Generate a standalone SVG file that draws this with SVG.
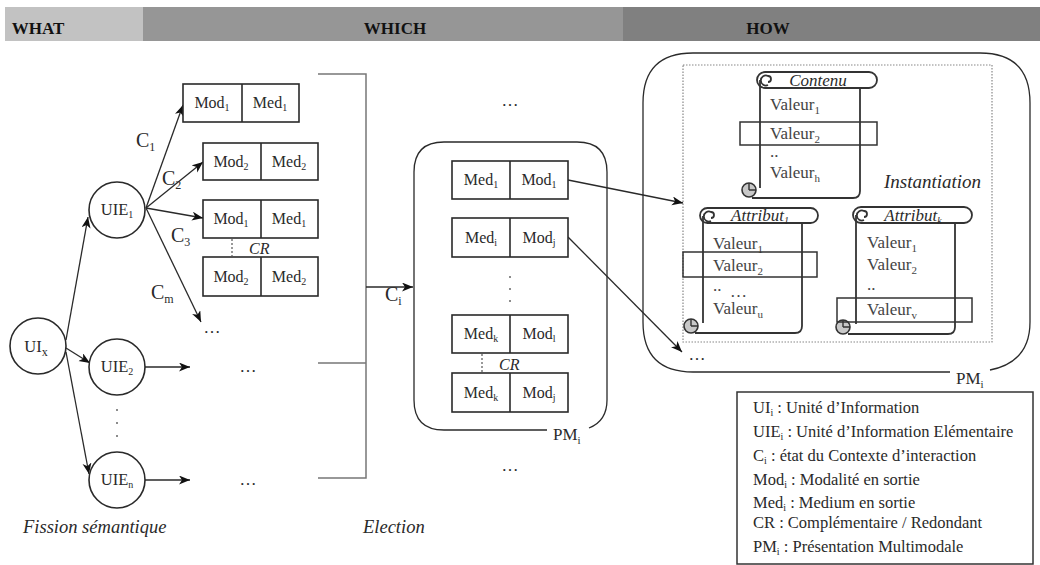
<svg xmlns="http://www.w3.org/2000/svg" width="1040" height="565" viewBox="0 0 1040 565" font-family="'Liberation Serif', 'DejaVu Serif', serif">
<style>
text{font-family:'Liberation Serif','DejaVu Serif','Times New Roman',serif;fill:#2a2a2a}
.hdr{font-size:17px;font-weight:bold;text-anchor:middle;fill:#111}
.box{fill:#fff;stroke:#2a2a2a;stroke-width:1.6}
.cell{font-size:16px;text-anchor:middle}
.circ{fill:#fff;stroke:#2a2a2a;stroke-width:1.6}
.node{font-size:16.5px;text-anchor:middle}
.lbl{font-size:20px}
.it{font-style:italic}
.conn{fill:none;stroke:#2a2a2a;stroke-width:1.3}
.gray{fill:none;stroke:#777;stroke-width:1.5}
.cr{stroke:#999;stroke-width:2;stroke-dasharray:2 2}
.dots{font-size:17px;text-anchor:middle}
.scroll{fill:none;stroke:#333;stroke-width:1.8}
.val{font-size:17px;fill:#444}
.leg{font-size:16.5px}
.dot{fill:#666}
</style>
<defs>
<marker id="arr" markerUnits="userSpaceOnUse" markerWidth="12" markerHeight="10" refX="11" refY="4.5" orient="auto">
<path d="M0,0 L11,4.5 L0,9 L3,4.5 Z" fill="#111"/>
</marker>
</defs>

<g id="header">
<rect x="5" y="7" width="138" height="34" fill="#c2c2c2"/>
<rect x="143" y="7" width="480" height="34" fill="#969696"/>
<rect x="623" y="7" width="417" height="34" fill="#808080"/>
<text class="hdr" x="38" y="34">WHAT</text>
<text class="hdr" x="395" y="34">WHICH</text>
<text class="hdr" x="768" y="34">HOW</text>
</g>

<g id="connectors">
<line class="conn" x1="66" y1="340" x2="88" y2="217" marker-end="url(#arr)"/>
<line class="conn" x1="66" y1="348" x2="90" y2="363" marker-end="url(#arr)"/>
<line class="conn" x1="66" y1="352" x2="89" y2="474" marker-end="url(#arr)"/>
<line class="conn" x1="146" y1="208" x2="183" y2="105" marker-end="url(#arr)"/>
<line class="conn" x1="146" y1="208" x2="203" y2="162" marker-end="url(#arr)"/>
<line class="conn" x1="146" y1="208" x2="203" y2="218" marker-end="url(#arr)"/>
<line class="conn" x1="146" y1="208" x2="201" y2="322" marker-end="url(#arr)"/>
<line class="conn" x1="145" y1="367" x2="190" y2="367" marker-end="url(#arr)"/>
<line class="conn" x1="145" y1="480" x2="190" y2="480" marker-end="url(#arr)"/>
<path class="gray" d="M318 74 H366 V478 H318 M318 363 H366"/>
<line class="conn" x1="366" y1="287" x2="413" y2="287" marker-end="url(#arr)"/>
<line class="conn" x1="568" y1="180" x2="683" y2="203" marker-end="url(#arr)"/>
<line class="conn" x1="568" y1="237" x2="682" y2="352" marker-end="url(#arr)"/>
</g>

<g id="labels">
<text class="lbl" x="136" y="147">C<tspan dy="4" font-size="12">1</tspan></text>
<text class="lbl" x="162" y="185">C<tspan dy="4" font-size="12">2</tspan></text>
<text class="lbl" x="171" y="242">C<tspan dy="4" font-size="12">3</tspan></text>
<text class="lbl" x="151" y="299">C<tspan dy="4" font-size="12">m</tspan></text>
<text class="lbl" x="385" y="301">C<tspan dy="4" font-size="12">i</tspan></text>
<text class="dots" x="212" y="333">…</text>
<text class="dots" x="248" y="372">…</text>
<text class="dots" x="248" y="485">…</text>
<text class="dots" x="510" y="106">…</text>
<text class="dots" x="510" y="471">…</text>
<text class="dots" x="697" y="360">…</text>
<circle class="dot" cx="117" cy="410" r="1"/>
<circle class="dot" cx="117" cy="423" r="1"/>
<circle class="dot" cx="117" cy="436" r="1"/>
<text class="it" x="23" y="533" font-size="18.5">Fission sémantique</text>
<text class="it" x="363" y="533" font-size="18.5">Election</text>
</g>

<g id="UIx">
<circle class="circ" cx="38" cy="346" r="28"/>
<text class="node" x="36" y="352" font-size="20">UI<tspan dy="4" font-size="12">x</tspan></text>
</g>
<g id="UIE1">
<circle class="circ" cx="117" cy="210" r="28"/>
<text class="node" x="117" y="215">UIE<tspan dy="3" font-size="10">1</tspan></text>
</g>
<g id="UIE2">
<circle class="circ" cx="117" cy="367" r="28"/>
<text class="node" x="117" y="372">UIE<tspan dy="3" font-size="10">2</tspan></text>
</g>
<g id="UIEn">
<circle class="circ" cx="117" cy="480" r="28"/>
<text class="node" x="117" y="485">UIE<tspan dy="3" font-size="10">n</tspan></text>
</g>

<g id="box1">
<rect class="box" x="183" y="84" width="116" height="38"/>
<line class="box" x1="242" y1="84" x2="242" y2="122"/>
<text class="cell" x="212" y="108">Mod<tspan dy="3" font-size="10">1</tspan></text>
<text class="cell" x="270" y="108">Med<tspan dy="3" font-size="10">1</tspan></text>
</g>
<g id="box2">
<rect class="box" x="203" y="143" width="115" height="37"/>
<line class="box" x1="261" y1="143" x2="261" y2="180"/>
<text class="cell" x="231" y="167">Mod<tspan dy="3" font-size="10">2</tspan></text>
<text class="cell" x="289" y="167">Med<tspan dy="3" font-size="10">2</tspan></text>
</g>
<g id="box3">
<rect class="box" x="203" y="200" width="115" height="38"/>
<line class="box" x1="261" y1="200" x2="261" y2="238"/>
<text class="cell" x="231" y="224">Mod<tspan dy="3" font-size="10">1</tspan></text>
<text class="cell" x="289" y="224">Med<tspan dy="3" font-size="10">1</tspan></text>
</g>
<g id="box4">
<rect class="box" x="203" y="257" width="115" height="39"/>
<line class="box" x1="261" y1="257" x2="261" y2="296"/>
<text class="cell" x="231" y="282">Mod<tspan dy="3" font-size="10">2</tspan></text>
<text class="cell" x="289" y="282">Med<tspan dy="3" font-size="10">2</tspan></text>
</g>
<g id="cr1">
<line class="cr" x1="232" y1="239" x2="232" y2="256"/>
<text class="it" x="249" y="254" font-size="16">CR</text>
</g>

<g id="PM-election">
<path class="conn" stroke-width="1.8" d="M547 430 H444 Q414 430 414 400 V172 Q414 142 444 142 H577 Q607 142 607 172 V400 Q607 421 589 428"/>
<text x="553" y="440" font-size="17">PM<tspan dy="4" font-size="11">i</tspan></text>
</g>
<g id="pbox1">
<rect class="box" x="452" y="161" width="116" height="38"/>
<line class="box" x1="510" y1="161" x2="510" y2="199"/>
<text class="cell" x="481" y="185">Med<tspan dy="3" font-size="10">1</tspan></text>
<text class="cell" x="539" y="185">Mod<tspan dy="3" font-size="10">1</tspan></text>
</g>
<g id="pbox2">
<rect class="box" x="452" y="218" width="116" height="39"/>
<line class="box" x1="510" y1="218" x2="510" y2="257"/>
<text class="cell" x="481" y="243">Med<tspan dy="3" font-size="10">i</tspan></text>
<text class="cell" x="539" y="243">Mod<tspan dy="3" font-size="10">j</tspan></text>
</g>
<circle class="dot" cx="510" cy="277" r="1"/>
<circle class="dot" cx="510" cy="289" r="1"/>
<circle class="dot" cx="510" cy="301" r="1"/>
<g id="pbox3">
<rect class="box" x="452" y="315" width="116" height="38"/>
<line class="box" x1="510" y1="315" x2="510" y2="353"/>
<text class="cell" x="481" y="339">Med<tspan dy="3" font-size="10">k</tspan></text>
<text class="cell" x="539" y="339">Mod<tspan dy="3" font-size="10">l</tspan></text>
</g>
<g id="pbox4">
<rect class="box" x="452" y="373" width="116" height="39"/>
<line class="box" x1="510" y1="373" x2="510" y2="412"/>
<text class="cell" x="481" y="398">Med<tspan dy="3" font-size="10">k</tspan></text>
<text class="cell" x="539" y="398">Mod<tspan dy="3" font-size="10">j</tspan></text>
</g>
<g id="cr2">
<line class="cr" x1="482" y1="354" x2="482" y2="372"/>
<text class="it" x="499" y="370" font-size="16">CR</text>
</g>

<g id="PM-how">
<path class="conn" stroke-width="1.8" d="M950 372 H693 Q643 372 643 322 V103 Q643 53 693 53 H980 Q1030 53 1030 103 V322 Q1030 362 990 370"/>
<text x="956" y="384" font-size="17">PM<tspan dy="4" font-size="11">i</tspan></text>
<rect x="683" y="65" width="309" height="277" fill="none" stroke="#888" stroke-width="1.2" stroke-dasharray="1.5 1.5"/>
<text class="it" x="884" y="188" font-size="19">Instantiation</text>
</g>

<g id="contenu">
<rect class="scroll" x="757" y="72" width="120" height="16" rx="8"/>
<path class="scroll" d="M760 80 V188 M860 88 V191 Q860 198 853 198 H752"/>
<path class="scroll" d="M768 85 A5 5 0 1 1 768 76 A3 3 0 0 1 768 82"/>
<circle cx="749" cy="190" r="7" fill="#c8c8c8" stroke="#333" stroke-width="1.6"/>
<path d="M749 190 H756 M749 190 V183" stroke="#333" stroke-width="1.4" fill="none"/>
<text class="it" x="818" y="86" font-size="17" text-anchor="middle">Contenu</text>
<text class="val" x="770" y="110">Valeur<tspan dy="4" font-size="11">1</tspan></text>
<rect x="740" y="122" width="137" height="23" fill="none" stroke="#333" stroke-width="1.5"/>
<text class="val" x="770" y="139">Valeur<tspan dy="4" font-size="11">2</tspan></text>
<text class="val" x="770" y="157" font-size="11">..</text>
<text class="val" x="770" y="178">Valeur<tspan dy="4" font-size="11">h</tspan></text>
</g>

<g id="attribut1">
<rect class="scroll" x="700" y="208" width="118" height="15" rx="7.5"/>
<path class="scroll" d="M703 216 V323 M802 223 V326 Q802 333 795 333 H695"/>
<path class="scroll" d="M711 221 A5 5 0 1 1 711 212 A3 3 0 0 1 711 218"/>
<circle cx="691" cy="326" r="7" fill="#c8c8c8" stroke="#333" stroke-width="1.6"/>
<path d="M691 326 H698 M691 326 V319" stroke="#333" stroke-width="1.4" fill="none"/>
<text class="it" x="760" y="221" font-size="17" text-anchor="middle">Attribut<tspan dy="3" font-size="10">1</tspan></text>
<text class="val" x="713" y="249">Valeur<tspan dy="4" font-size="11">1</tspan></text>
<rect x="683" y="252" width="134" height="25" fill="none" stroke="#333" stroke-width="1.5"/>
<text class="val" x="713" y="271">Valeur<tspan dy="4" font-size="11">2</tspan></text>
<text class="val" x="713" y="291" font-size="11">..</text>
<text class="val" x="730" y="297" font-size="13">…</text>
<text class="val" x="713" y="314">Valeur<tspan dy="4" font-size="11">u</tspan></text>
</g>

<g id="attributk">
<rect class="scroll" x="853" y="207" width="119" height="16" rx="8"/>
<path class="scroll" d="M856 215 V324 M955 223 V327 Q955 334 948 334 H848"/>
<path class="scroll" d="M864 220 A5 5 0 1 1 864 211 A3 3 0 0 1 864 217"/>
<circle cx="843" cy="327" r="7" fill="#c8c8c8" stroke="#333" stroke-width="1.6"/>
<path d="M843 327 H850 M843 327 V320" stroke="#333" stroke-width="1.4" fill="none"/>
<text class="it" x="913" y="221" font-size="17" text-anchor="middle">Attribut<tspan dy="3" font-size="10">k</tspan></text>
<text class="val" x="867" y="248">Valeur<tspan dy="4" font-size="11">1</tspan></text>
<text class="val" x="867" y="270">Valeur<tspan dy="4" font-size="11">2</tspan></text>
<text class="val" x="867" y="290" font-size="11">..</text>
<rect x="837" y="298" width="135" height="24" fill="none" stroke="#333" stroke-width="1.5"/>
<text class="val" x="867" y="315">Valeur<tspan dy="4" font-size="11">v</tspan></text>
</g>

<g id="legend">
<rect x="737" y="392" width="296" height="172" fill="#fff" stroke="#333" stroke-width="1.5"/>
<text class="leg" x="753" y="413">UI<tspan dy="3" font-size="10">i</tspan><tspan dy="-3"> : Unité d’Information</tspan></text>
<text class="leg" x="753" y="437">UIE<tspan dy="3" font-size="10">i</tspan><tspan dy="-3"> : Unité d’Information Elémentaire</tspan></text>
<text class="leg" x="753" y="461">C<tspan dy="3" font-size="10">i</tspan><tspan dy="-3"> : état du Contexte d’interaction</tspan></text>
<text class="leg" x="753" y="485">Mod<tspan dy="3" font-size="10">i</tspan><tspan dy="-3"> : Modalité en sortie</tspan></text>
<text class="leg" x="753" y="508">Med<tspan dy="3" font-size="10">i</tspan><tspan dy="-3"> : Medium en sortie</tspan></text>
<text class="leg" x="753" y="528">CR : Complémentaire / Redondant</text>
<text class="leg" x="753" y="552">PM<tspan dy="3" font-size="10">i</tspan><tspan dy="-3"> : Présentation Multimodale</tspan></text>
</g>
</svg>
